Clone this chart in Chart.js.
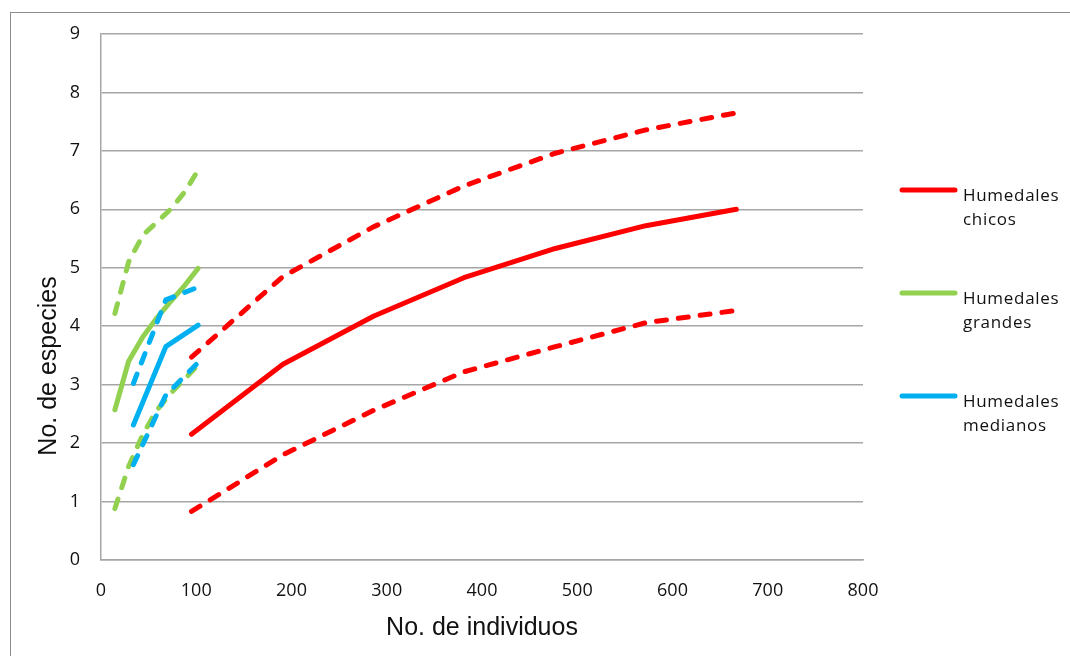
<!DOCTYPE html>
<html>
<head>
<meta charset="utf-8">
<script src="https://cdn.jsdelivr.net/npm/chart.js@4/dist/chart.umd.min.js"></script>
<style>
  html, body { margin: 0; padding: 0; background: #fff; overflow: hidden; }
  #frame { position: absolute; left: 10px; top: 12px; width: 1100px; height: 700px;
           border-left: 1px solid #8c8c8c; border-top: 1px solid #8c8c8c; }
  #chart { position: absolute; left: 0; top: 0; }
</style>
</head>
<body>
<div id="frame"></div>
<canvas id="chart" width="1070" height="656"></canvas>
<script>
// individuals (x) for each group
var chicosX = [95, 191, 286, 381, 477, 572, 667];
var grandesX = [14.6, 29, 44, 58, 73, 88, 102];
var medianosX = [34, 68, 102];

// species (y): mean and the two dashed bounds
var chicosMean = [2.15, 3.35, 4.17, 4.83, 5.33, 5.72, 6.0];
var chicosUpper = [3.47, 4.85, 5.7, 6.4, 6.96, 7.36, 7.65];
var chicosLower = [0.83, 1.8, 2.56, 3.22, 3.65, 4.06, 4.27];

var grandesMean = [2.57, 3.4, 3.82, 4.13, 4.42, 4.7, 4.99];
var grandesUpper = [4.22, 5.1, 5.56, 5.77, 6.0, 6.3, 6.67];
var grandesLower = [0.88, 1.6, 2.15, 2.55, 2.85, 3.1, 3.34];

var medianosMean = [2.31, 3.65, 4.02];
var medianosUpper = [3.02, 4.45, 4.67];
var medianosLower = [1.63, 2.82, 3.38];

var legendLabels = ['Humedales chicos', 'Humedales grandes', 'Humedales medianos'];
var colorChicos = '#ff0000';
var colorGrandes = '#92d050';
var colorMedianos = '#00b0f0';

function pts(xs, ys) {
    return xs.map(function(x, i) { return {x: x, y: ys[i]}; });
}

function line(label, xs, ys, color, dashed) {
    return {
        label: label,
        data: pts(xs, ys),
        borderColor: color,
        backgroundColor: color,
        borderWidth: 5,
        borderDash: dashed ? [10, 12] : [],
        borderCapStyle: 'round',
        borderJoinStyle: 'round',
        pointRadius: 0,
        tension: 0,
        fill: false
    };
}

// sidebar legend, two lines per entry like the original
var sideLegend = {
    id: 'sideLegend',
    afterDraw: function(chart) {
        var ctx = chart.ctx;
        var colors = [colorChicos, colorGrandes, colorMedianos];
        ctx.save();
        ctx.font = '17px "Open Sans"';
        ctx.letterSpacing = '0.7px';
        ctx.fillStyle = '#111';
        ctx.textBaseline = 'alphabetic';
        legendLabels.forEach(function(lab, i) {
            var y = 190 + i * 103;
            ctx.strokeStyle = colors[i];
            ctx.lineWidth = 5;
            ctx.lineCap = 'round';
            ctx.beginPath();
            ctx.moveTo(902, y);
            ctx.lineTo(955, y);
            ctx.stroke();
            var parts = lab.split(' ');
            ctx.fillText(parts[0], 963, y + 11);
            ctx.fillText(parts[1], 963, y + 35);
        });
        ctx.restore();
    }
};

// y title sits lower than centre in the original
var yTitle = {
    id: 'yTitle',
    afterDraw: function(chart) {
        var ctx = chart.ctx;
        ctx.save();
        ctx.translate(49, 366);
        ctx.rotate(-Math.PI / 2);
        ctx.font = '25px "Liberation Sans"';
        ctx.fillStyle = '#111';
        ctx.textAlign = 'center';
        ctx.textBaseline = 'middle';
        ctx.fillText('No. de especies', 0, 0);
        ctx.restore();
    }
};

var chart = new Chart(document.getElementById('chart'), {
    type: 'line',
    data: {
        datasets: [
            line('Humedales medianos', medianosX, medianosMean, colorMedianos, false),
            line('medianos sup', medianosX, medianosUpper, colorMedianos, true),
            line('medianos inf', medianosX, medianosLower, colorMedianos, true),
            line('Humedales grandes', grandesX, grandesMean, colorGrandes, false),
            line('grandes sup', grandesX, grandesUpper, colorGrandes, true),
            line('grandes inf', grandesX, grandesLower, colorGrandes, true),
            line('Humedales chicos', chicosX, chicosMean, colorChicos, false),
            line('chicos sup', chicosX, chicosUpper, colorChicos, true),
            line('chicos inf', chicosX, chicosLower, colorChicos, true)
        ]
    },
    options: {
        responsive: false,
        animation: false,
        layout: { padding: { left: 0, top: 34, right: 207, bottom: 0 } },
        plugins: {
            legend: { display: false },
            tooltip: { enabled: false }
        },
        scales: {
            x: {
                type: 'linear',
                min: 0,
                max: 800,
                ticks: {
                    stepSize: 100,
                    padding: 20,
                    color: '#111',
                    font: { family: 'Open Sans', size: 18 }
                },
                grid: { display: false, drawTicks: false },
                border: { display: true, color: '#a6a6a6', width: 1.5 },
                title: {
                    display: true,
                    text: 'No. de individuos',
                    color: '#111',
                    font: { family: 'Liberation Sans', size: 25 },
                    padding: { top: 0, bottom: 13 }
                },
                afterFit: function(s) { s.height = 96; }
            },
            y: {
                min: 0,
                max: 9,
                ticks: {
                    stepSize: 1,
                    padding: 21,
                    color: '#111',
                    font: { family: 'Open Sans', size: 18 }
                },
                grid: { color: '#a6a6a6', lineWidth: 1.5, drawTicks: false },
                border: { display: true, color: '#a6a6a6', width: 1.5 },
                afterFit: function(s) { s.width = 101; }
            }
        }
    },
    plugins: [sideLegend, yTitle]
});
</script>
</body>
</html>
